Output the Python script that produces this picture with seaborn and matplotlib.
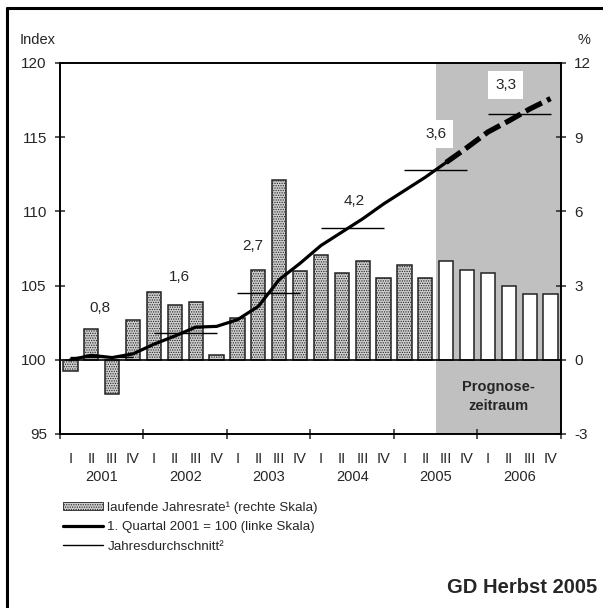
import matplotlib
matplotlib.use("Agg")
import matplotlib.pyplot as plt
from matplotlib.lines import Line2D
from matplotlib.patches import Patch
import numpy as np
import pandas as pd
import seaborn as sns

# quarters 2001 I .. 2006 IV
years = ["2001", "2002", "2003", "2004", "2005", "2006"]
quarters = ["I", "II", "III", "IV"]
quarter_labels = quarters * len(years)

# laufende Jahresrate in % (right scale)
rate = [-0.45, 1.25, -1.4, 1.6, 2.75, 2.2, 2.35, 0.2,
        1.7, 3.65, 7.25, 3.6, 4.25, 3.5, 4.0, 3.3,
        3.85, 3.3, 4.0, 3.65, 3.5, 3.0, 2.65, 2.65]

# index, 1. Quartal 2001 = 100 (left scale)
index = [100.0, 100.3, 100.15, 100.4, 101.05, 101.6, 102.2, 102.25,
         102.7, 103.6, 105.4, 106.5, 107.7, 108.6, 109.5, 110.5,
         111.4, 112.3, 113.3, 114.3, 115.35, 116.1, 116.9, 117.6]

# Jahresdurchschnitt (left scale) and growth labels
annual_avg = [100.2, 101.8, 104.5, 108.9, 112.8, 116.55]
annual_growth = ["0,8", "1,6", "2,7", "4,2", "3,6", "3,3"]
growth_pos = [(1.42, 103.5), (5.2, 105.6), (8.75, 107.7),
              (13.6, 110.7), (17.5, 115.2), (20.85, 118.5)]

first_forecast = 18  # 2005 III

df = pd.DataFrame({"q": np.arange(len(rate)), "rate": rate, "index": index})

sns.set_theme(style="ticks")
plt.rcParams["font.family"] = ["Liberation Sans", "DejaVu Sans"]
plt.rcParams["axes.unicode_minus"] = False
plt.rcParams["hatch.linewidth"] = 0.6
plt.rcParams["hatch.color"] = "#333333"

HATCH = "......."
BAR_FACE = "#cfcfcf"

fig = plt.figure(figsize=(6.03, 6.08), dpi=100)
ax = fig.add_axes([0.0995, 0.2862, 0.8308, 0.6102])  # percent axis (bars)
ax2 = ax.twinx()  # index axis (line)

# forecast shading
ax.axvspan(first_forecast - 0.5, len(rate) - 0.5, color="#c0c0c0", lw=0, zorder=0)

sns.barplot(data=df, x="q", y="rate", ax=ax, color="white", edgecolor="#222222",
            linewidth=1.1, width=0.68, saturation=1, zorder=2)
for i, bar in enumerate(ax.containers[0]):
    if i < first_forecast:
        bar.set_facecolor(BAR_FACE)
        bar.set_hatch(HATCH)
ax.axhline(0, color="black", lw=1.2, zorder=3)

# index line
sns.lineplot(data=df[df["q"] <= first_forecast], x="q", y="index", ax=ax2,
             color="black", lw=2.3)
sns.lineplot(data=df[df["q"] >= first_forecast], x="q", y="index", ax=ax2,
             color="black", lw=3.8, linestyle=(0, (3.4, 1.1)))

# annual averages
for k, avg in enumerate(annual_avg):
    ax2.hlines(avg, 4 * k, 4 * k + 3, color="black", lw=1.0)

for txt, (x, y) in zip(annual_growth, growth_pos):
    boxed = x >= first_forecast - 0.6
    ax2.text(x, y, txt, ha="center", va="center", fontsize=11,
             bbox=dict(facecolor="white", edgecolor="none", pad=5) if boxed else None)

ax.text(20.5, -1.5, "Prognose-\nzeitraum", ha="center", va="center",
        fontsize=10.5, fontweight="bold", linespacing=1.45)

# axes
ax.set_xlim(-0.5, len(rate) - 0.5)
ax.set_ylim(-3, 12)
ax.set_yticks([-3, 0, 3, 6, 9, 12])
ax2.set_ylim(95, 120)
ax2.set_yticks([95, 100, 105, 110, 115, 120])
ax.yaxis.tick_right()
ax2.yaxis.tick_left()
for a in (ax, ax2):
    a.set_xlabel("")
    a.set_ylabel("")

ax.set_xticks(range(len(rate)))
ax.set_xticklabels(quarter_labels)
ax.set_xticks(np.arange(-0.5, len(rate), 4), minor=True)
ax.tick_params(axis="x", which="major", length=0, pad=13, labelsize=10.5)
ax.tick_params(axis="x", which="minor", direction="inout", length=7, width=1.1)
for a in (ax, ax2):
    a.tick_params(axis="y", direction="inout", length=7, width=1.1, labelsize=11, pad=6)
    for s in a.spines.values():
        s.set_visible(True)
        s.set_linewidth(1.2)
        s.set_color("black")

for k, yr in enumerate(years):
    ax.text(4 * k + 1.5, -0.115, yr, transform=ax.get_xaxis_transform(),
            ha="center", va="center", fontsize=10.5)

fig.text(0.033, 0.934, "Index", fontsize=10.5, va="center")
fig.text(0.958, 0.934, "%", fontsize=10.5, va="center")

handles = [
    Patch(facecolor=BAR_FACE, edgecolor="#222222", hatch=HATCH, lw=0.6),
    Line2D([], [], color="black", lw=2.3),
    Line2D([], [], color="black", lw=1.0),
]
labels = ["laufende Jahresrate\u00b9 (rechte Skala)",
          "1. Quartal 2001 = 100 (linke Skala)",
          "Jahresdurchschnitt\u00b2"]
fig.legend(handles, labels, loc="upper left", bbox_to_anchor=(0.095, 0.184),
           frameon=False, fontsize=9.6, handlelength=3.0, handleheight=0.6,
           handletextpad=0.35, labelspacing=0.55, borderaxespad=0)

fig.text(0.99, 0.033, "GD Herbst 2005", ha="right", va="center",
         fontsize=14.5, fontweight="bold")

# frame
fig.add_artist(Line2D([0.012, 0.012], [0, 0.987], color="black", lw=2.2,
                      transform=fig.transFigure))
fig.add_artist(Line2D([0.012, 1.0], [0.987, 0.987], color="black", lw=2.2,
                      transform=fig.transFigure))

fig.savefig("out.png", dpi=100)
